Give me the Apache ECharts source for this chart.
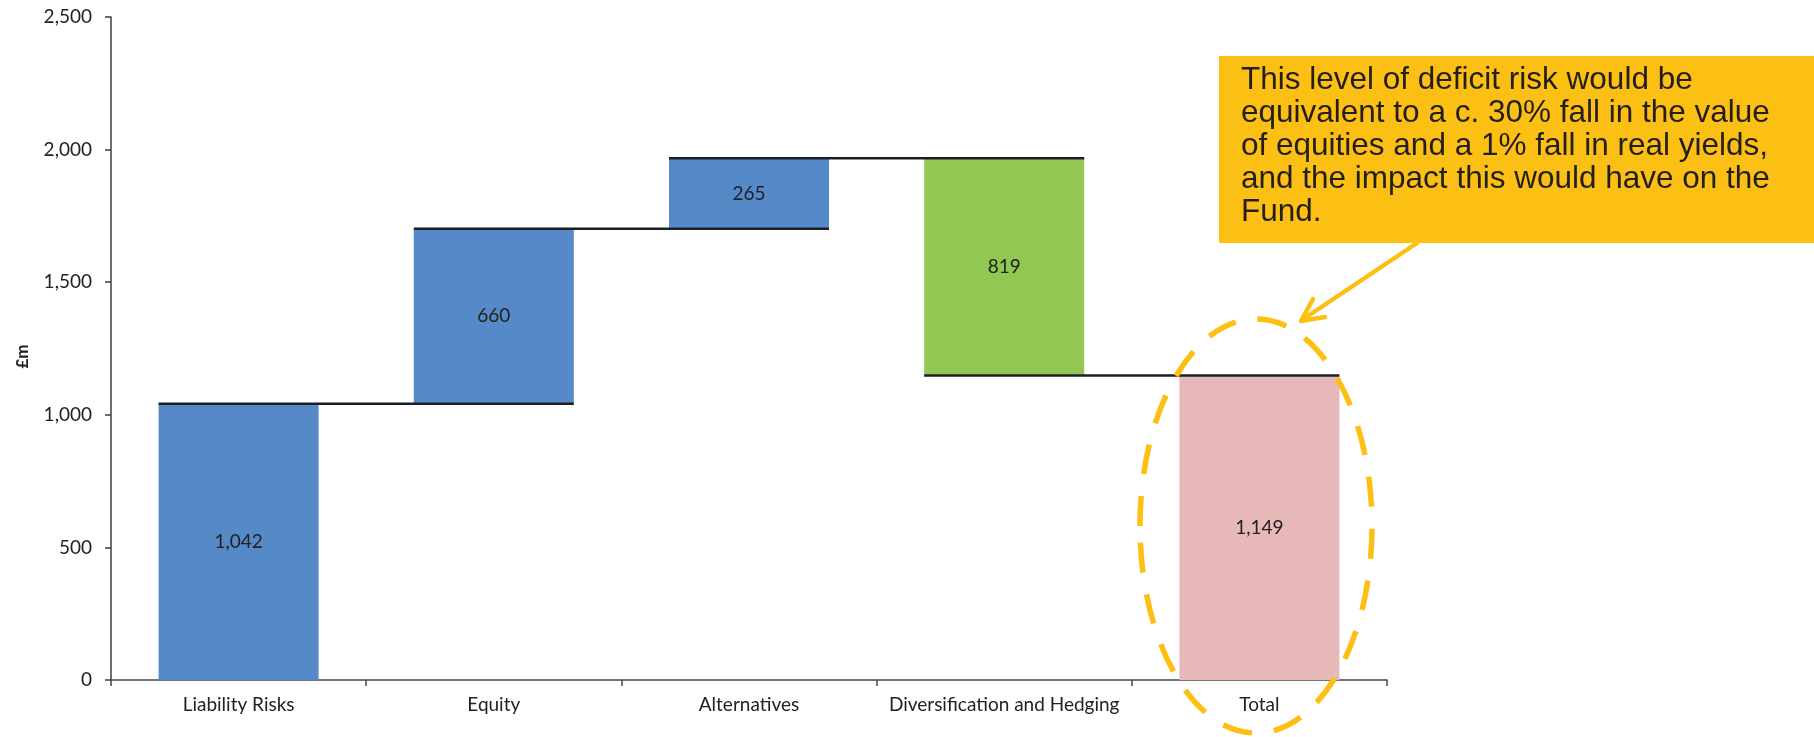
<!DOCTYPE html>
<html>
<head>
<meta charset="utf-8">
<title>Deficit risk attribution</title>
<script src="https://cdn.jsdelivr.net/npm/echarts@6/dist/echarts.min.js"></script>
<style>
  html, body { margin: 0; padding: 0; background: #ffffff; }
  #chart { width: 1814px; height: 737px; }
</style>
</head>
<body>
<div id="chart"></div>
<script>
// Risk components (£m); the last bar is the total after diversification.
const categories = ['Liability Risks', 'Equity', 'Alternatives', 'Diversification and Hedging', 'Total'];
const changes = [1042, 660, 265, -819];
const total = 1149;
const barColors = ['#5589C8', '#5589C8', '#5589C8', '#92C852', '#E6B8B7'];
const yTicks = { min: 0, max: 2500, interval: 500 };
const calloutText = [
  'This level of deficit risk would be',
  'equivalent to a c. 30% fall in the value',
  'of equities and a 1% fall in real yields,',
  'and the impact this would have on the',
  'Fund.'
];

// Build the floating-bar layout: invisible base + visible step.
const baseData = [];
const stepData = [];
const levels = [];
let running = 0;
changes.forEach(function (v, i) {
  const next = running + v;
  baseData.push(Math.min(running, next));
  stepData.push({ value: Math.abs(v), itemStyle: { color: barColors[i] } });
  running = next;
  levels.push(running);
});
baseData.push(0);
stepData.push({ value: total, itemStyle: { color: barColors[4] } });

const connectorData = levels.map(function (lv, i) { return [i, lv]; });

const GAP = 0.373;
const FONT = 'Lato, "Noto Sans", sans-serif';

function fmt(n) {
  return String(n).replace(/\B(?=(\d{3})+(?!\d))/g, ',');
}

const chart = echarts.init(document.getElementById('chart'), null, { renderer: 'canvas' });

chart.setOption({
  animation: false,
  backgroundColor: '#ffffff',
  grid: { left: 111, right: 427, top: 17, bottom: 57, containLabel: false },
  xAxis: {
    type: 'category',
    data: categories,
    axisLine: { lineStyle: { color: '#3e4850', width: 1.5 } },
    axisTick: { show: true, length: 6, lineStyle: { color: '#3e4850', width: 1.5 } },
    axisLabel: { color: '#222', fontFamily: FONT, fontSize: 19, margin: 15, interval: 0 }
  },
  yAxis: {
    type: 'value',
    min: yTicks.min,
    max: yTicks.max,
    interval: yTicks.interval,
    name: '£m',
    nameLocation: 'middle',
    nameGap: 80,
    nameRotate: 90,
    nameTextStyle: { color: '#222', fontFamily: FONT, fontSize: 17, fontWeight: 'bold', padding: [0, 16, 0, 0] },
    axisLine: { show: true, lineStyle: { color: '#3e3e3e', width: 1.5 } },
    axisTick: { show: true, length: 6, lineStyle: { color: '#3e3e3e', width: 1.5 } },
    splitLine: { show: false },
    axisLabel: { color: '#222', fontFamily: FONT, fontSize: 19, margin: 19, formatter: function (v) { return fmt(v); } }
  },
  series: [
    {
      name: 'base',
      type: 'bar',
      stack: 'wf',
      barCategoryGap: (GAP * 100) + '%',
      itemStyle: { color: 'transparent' },
      emphasis: { disabled: true },
      data: baseData,
      silent: true
    },
    {
      name: 'step',
      type: 'bar',
      stack: 'wf',
      barCategoryGap: (GAP * 100) + '%',
      data: stepData,
      label: {
        show: true,
        position: 'inside',
        color: '#222',
        fontFamily: FONT,
        fontSize: 19,
        formatter: function (p) { return fmt(p.value); }
      }
    },
    {
      name: 'connectors',
      type: 'custom',
      z: 5,
      data: connectorData,
      encode: { x: 0, y: 1 },
      renderItem: function (params, api) {
        const i = api.value(0);
        const lv = api.value(1);
        const p0 = api.coord([i, lv]);
        const p1 = api.coord([i + 1, lv]);
        const barW = api.size([1, 0])[0] * (1 - GAP);
        return {
          type: 'line',
          shape: { x1: p0[0] - barW / 2, y1: p0[1], x2: p1[0] + barW / 2, y2: p1[1] },
          style: { stroke: '#1b1f24', lineWidth: 2.5 }
        };
      }
    }
  ],
  graphic: [
    {
      type: 'ellipse',
      z: 10,
      shape: { cx: 1256, cy: 526, rx: 116, ry: 207 },
      style: { fill: null, stroke: '#FCBF12', lineWidth: 5.5, lineDash: [30, 22] }
    },
    {
      type: 'rect',
      z: 10,
      shape: { x: 1219, y: 56, width: 600, height: 187 },
      style: { fill: '#FCBF14' }
    },
    {
      type: 'text',
      z: 11,
      x: 1241,
      y: 64,
      style: {
        text: calloutText.join('\n'),
        fill: '#231f20',
        fontFamily: '"Liberation Sans", Arial, sans-serif',
        fontSize: 31.5,
        lineHeight: 33,
        verticalAlign: 'top',
        align: 'left'
      }
    },
    {
      type: 'line',
      z: 10,
      shape: { x1: 1417, y1: 243, x2: 1302, y2: 320 },
      style: { stroke: '#FCBF12', lineWidth: 4.5, lineCap: 'round' }
    },
    {
      type: 'polyline',
      z: 10,
      shape: { points: [[1313, 299], [1301, 321], [1325, 317]] },
      style: { stroke: '#FCBF12', lineWidth: 4.5, lineCap: 'round', lineJoin: 'round', fill: null }
    }
  ]
});
</script>
</body>
</html>
